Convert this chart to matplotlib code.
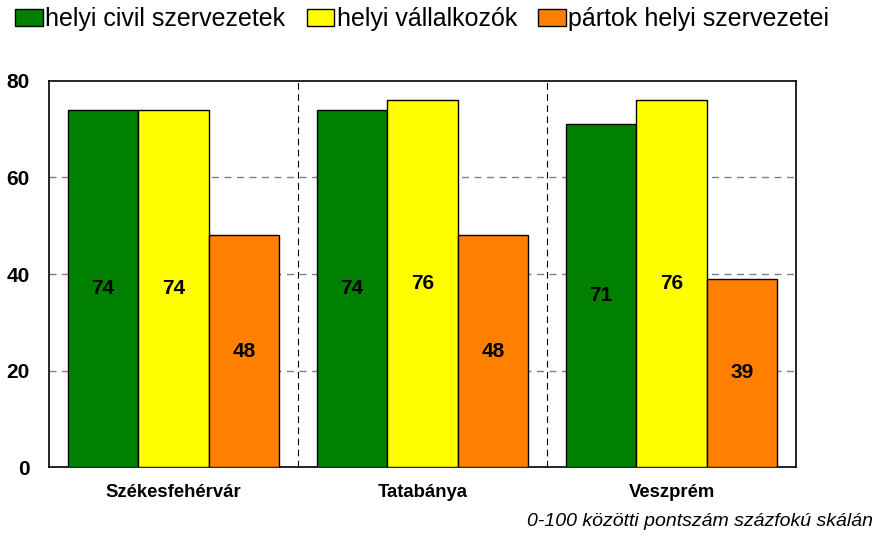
import matplotlib; matplotlib.use('Agg')
import matplotlib.pyplot as plt
import numpy as np

plt.rcParams['font.family'] = ['Liberation Sans', 'DejaVu Sans']

cities = ['Székesfehérvár', 'Tatabánya', 'Veszprém']
series = ['helyi civil szervezetek', 'helyi vállalkozók', 'pártok helyi szervezetei']
civil = [74, 74, 71]
vallalk = [74, 76, 76]
partok = [48, 48, 39]
colors = ['#008000', '#ffff00', '#ff8000']

fig = plt.figure(figsize=(8.76, 5.36), dpi=100)
ax = fig.add_axes([0.0559, 0.1287, 0.853, 0.7202])
x = np.arange(len(cities)); w = 0.283
handles = []
for i, (vals, c, lab) in enumerate(zip([civil, vallalk, partok], colors, series)):
    b = ax.bar(x + (i - 1) * w, vals, width=w, color=c, edgecolor='black', lw=1, zorder=3, label=lab)
    handles.append(b)
    for xi, v in zip(x + (i - 1) * w, vals):
        ax.text(xi, v / 2, f'{v}', ha='center', va='center', fontsize=15, fontweight='bold', zorder=4)

ax.set_xlim(-0.5, 2.5); ax.set_ylim(0, 80)
ax.set_yticks([0, 20, 40, 60, 80])
ax.set_yticklabels(['0', '20', '40', '60', '80'], fontsize=15, fontweight='bold')
ax.set_xticks(x)
ax.set_xticklabels(cities, fontsize=13.3, fontweight='bold')
ax.tick_params(axis='y', length=0, pad=14)
ax.tick_params(axis='x', length=0, pad=12)
for yv in [20, 40, 60]:
    ax.axhline(yv, color='#808080', ls=(0, (5, 4)), lw=1, zorder=1)
for xv in [0.5, 1.5]:
    ax.axvline(xv, color='black', ls=(0, (6, 4)), lw=0.8, zorder=1)
for s in ax.spines.values():
    s.set_linewidth(1.2)

fig.legend(handles=handles, loc='upper left', bbox_to_anchor=(-0.008, 1.028), ncol=3, frameon=False,
           fontsize=18, handlelength=1.1, handleheight=0.7, handletextpad=0.1, columnspacing=0.85)
fig.text(0.997, 0.012, '0-100 közötti pontszám százfokú skálán', ha='right', va='bottom',
         fontsize=14, style='italic')

plt.savefig('out.png', dpi=100)
